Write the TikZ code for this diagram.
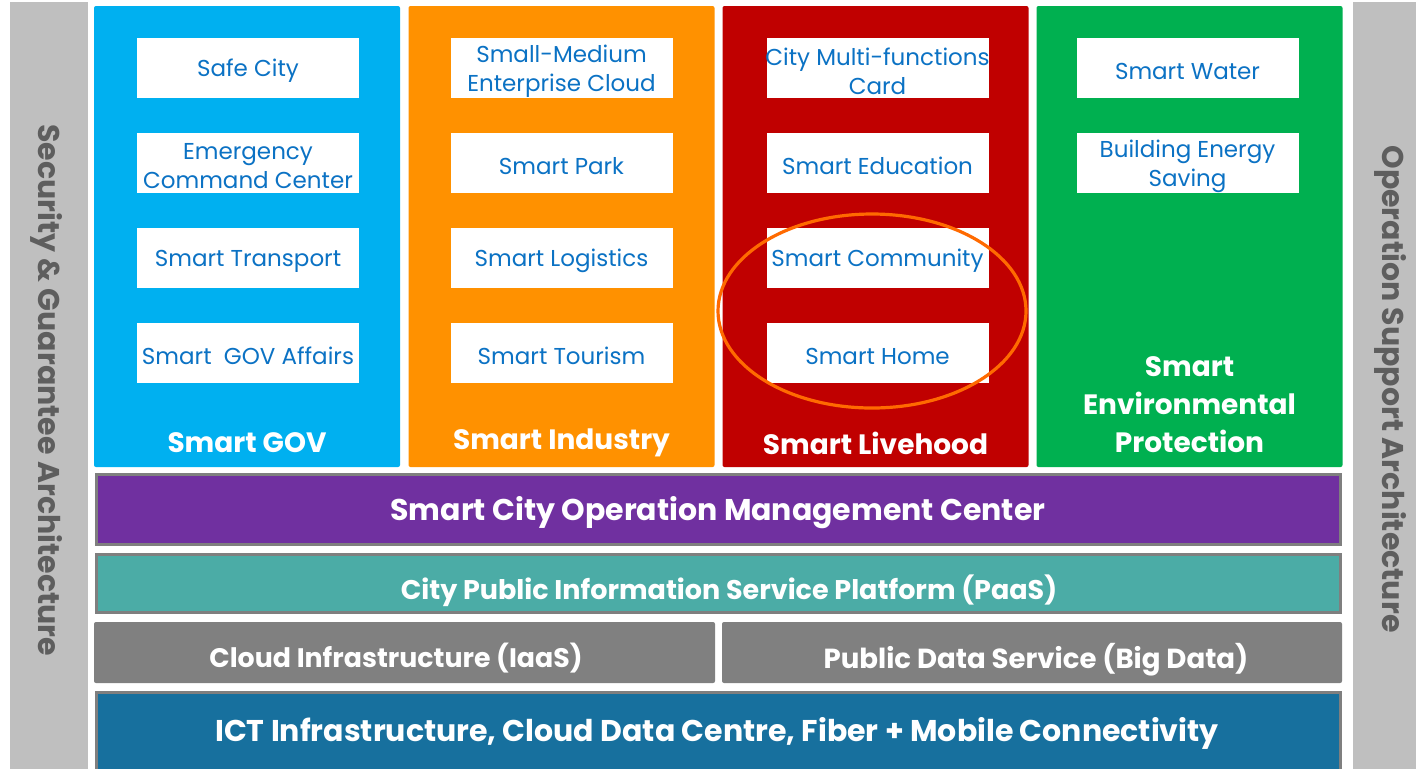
\documentclass[tikz,border=0pt]{standalone}
\usepackage{fontspec}
\setmainfont{Poppins}
\definecolor{sidegray}{HTML}{BFBFBF}
\definecolor{sidetext}{HTML}{5E5E5E}
\definecolor{cblue}{HTML}{00B0F0}
\definecolor{corange}{HTML}{FF9100}
\definecolor{cred}{HTML}{C00000}
\definecolor{cgreen}{HTML}{00B050}
\definecolor{cpurple}{HTML}{7030A0}
\definecolor{cteal}{HTML}{4BACA6}
\definecolor{cgray}{HTML}{808080}
\definecolor{cdblue}{HTML}{17709E}
\definecolor{cborder}{HTML}{7F7F7F}
\definecolor{txtblue}{HTML}{0B72C4}
\definecolor{ring}{HTML}{FF6A00}
\tikzset{
  sidebar/.style={fill=sidegray, draw=none, minimum width=39pt, minimum height=390pt, inner sep=0},
  sidetxt/.style={text=sidetext, font=\bfseries\fontsize{15}{18}\selectfont, rotate=-90},
  column/.style={fill=#1, draw=none, rounded corners=1pt, minimum width=153pt, minimum height=230.5pt, inner sep=0},
  wbox/.style={fill=white, minimum width=111pt, minimum height=30pt, inner sep=0, text=txtblue, font=\fontsize{11.5}{14.5}\selectfont, align=center},
  wtxt/.style={text=txtblue, font=\fontsize{11.5}{14.5}\selectfont, align=center, yshift=-1.5pt},
  coltitle/.style={text=white, font=\bfseries\fontsize{14}{19}\selectfont, align=center, yshift=-1.5pt},
  band/.style={fill=#1, draw=cborder, line width=1.5pt, minimum width=622pt, inner sep=0},
  bandtxt/.style={text=white, font=\bfseries\fontsize{#1}{17}\selectfont, yshift=-1.5pt},
  bandtxt/.default=15,
}
\begin{document}
\begin{tikzpicture}[x=0.5pt,y=-0.5pt]
\useasboundingbox (0,0) rectangle (1416,768);
\fill[white] (0,0) rectangle (1416,768);
\clip (0,0) rectangle (1416,768);
% side bars
\node[sidebar, minimum width=39pt] (lbar) at (49,392) {};
\node[sidetxt] (ltxt) at (47,390) {Security \& Guarantee Architecture};
\node[sidebar, minimum width=33pt] (rbar) at (1386,392) {};
\node[sidetxt] (rtxt) at (1390,389) {Operation Support Architecture};
% columns
\node[column=cblue] (c1) at (247,236.5) {};
\node[column=corange] (c2) at (561.5,236.5) {};
\node[column=cred] (c3) at (875.5,236.5) {};
\node[column=cgreen] (c4) at (1189.5,236.5) {};
% white boxes
\foreach \n/\x/\y in {g1/248/68,g2/248/163,g3/248/258,g4/248/353,
  i1/561.5/68,i2/561.5/163,i3/561.5/258,i4/561.5/353,
  l1/877.5/68,l2/877.5/163,l3/877.5/258,l4/877.5/353,
  e1/1187.5/68,e2/1187.5/163}
  \node[wbox] (\n) at (\x,\y) {};
\node[wtxt] (g1t) at (g1) {Safe City};
\node[wtxt] (g2t) at (g2) {Emergency\\Command Center};
\node[wtxt] (g3t) at (g3) {Smart Transport};
\node[wtxt] (g4t) at (g4) {Smart\ \ GOV Affairs};
\node[wtxt] (i1t) at (i1) {Small-Medium\\Enterprise Cloud};
\node[wtxt] (i2t) at (i2) {Smart Park};
\node[wtxt] (i3t) at (i3) {Smart Logistics};
\node[wtxt] (i4t) at (i4) {Smart Tourism};
\node[wtxt] (l1t) at (l1) {City Multi-functions\\Card};
\node[wtxt] (l2t) at (l2) {Smart Education};
\node[wtxt] (l3t) at (l3) {Smart Community};
\node[wtxt] (l4t) at (l4) {Smart Home};
\node[wtxt] (e1t) at (e1) {Smart Water};
\node[wtxt] (e2t) at (e2) {Building Energy\\Saving};
% column titles
\node[coltitle] (t1) at (247,440) {Smart GOV};
\node[coltitle] (t2) at (561.5,440) {Smart Industry};
\node[coltitle] (t3) at (875.5,440) {Smart Livehood};
\node[coltitle] (t4) at (1189.5,402) {Smart\\Environmental\\Protection};
% highlight ellipse
\draw[ring, line width=1.6pt] (872,311) ellipse [x radius=154, y radius=97];
% bands
\node[band=cpurple, minimum height=35pt] (b1) at (718,509.5) {};
\node[bandtxt] (b1t) at (718,510) {Smart City Operation Management Center};
\node[band=cteal, minimum height=29pt] (b2) at (718,583.5) {};
\node[bandtxt=13.5] (b2t) at (729,588) {City Public Information Service Platform (PaaS)};
\node[fill=cgray, rounded corners=1pt, minimum width=310.5pt, minimum height=30.5pt, inner sep=0] (b3a) at (404.5,652.5) {};
\node[bandtxt=13.4] (b3at) at (396,655) {Cloud Infrastructure (IaaS)};
\node[fill=cgray, rounded corners=1pt, minimum width=310pt, minimum height=30.5pt, inner sep=0] (b3b) at (1032,652.5) {};
\node[bandtxt=13.8] (b3bt) at (1036,657) {Public Data Service (Big Data)};
\node[band=cdblue, minimum height=43pt] (b4) at (718,735) {};
\node[bandtxt] (b4t) at (717,730) {ICT Infrastructure, Cloud Data Centre, Fiber + Mobile Connectivity};
\end{tikzpicture}
\end{document}
